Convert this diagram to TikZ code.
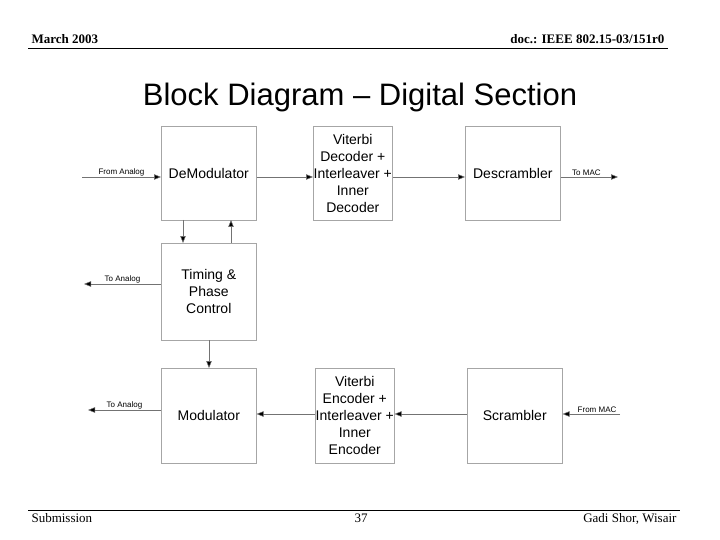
\documentclass[tikz,border=0pt]{standalone}
\usepackage{fontspec}
\setmainfont{Liberation Serif}
\newfontfamily\arial{Liberation Sans}
\usetikzlibrary{arrows.meta}
\begin{document}
\begin{tikzpicture}[x=1pt,y=-1pt,
  blk/.style={draw=black!35,line width=0.6pt,minimum width=95pt,minimum height=94pt,anchor=north west,align=center,font=\arial\fontsize{14}{17}\selectfont,inner sep=0pt},
  ar/.style={draw=black!55,line width=0.5pt,-{Triangle[length=7pt,width=5.5pt,fill=black]}},
  lab/.style={font=\arial\fontsize{8}{9}\selectfont,inner sep=1pt},
  hd/.style={font=\bfseries\fontsize{13}{15}\selectfont,anchor=base west},
  ft/.style={font=\fontsize{13}{15}\selectfont,anchor=base}]
\useasboundingbox (0,0) rectangle (720,540);
\node[hd] (hl) at (28,44) {March 2003};
\node[hd,anchor=base east] (hr) at (668,44) {doc.: IEEE 802.15-03/151r0};
\draw[line width=0.6pt] (28,48) -- (668,48);
\node[font=\arial\fontsize{31}{34}\selectfont] (title) at (360,97) {Block Diagram – Digital Section};
\draw[line width=0.6pt] (28,510) -- (680,510);
\node[ft,anchor=base west] (fl) at (28,522) {Submission};
\node[ft] (fc) at (361,522) {37};
\node[ft,anchor=base east] (fr) at (680,522) {Gadi Shor, Wisair};

\node[blk] (dem) at (161,126) {DeModulator};
\node[blk,minimum width=79pt] (vd) at (313,126) {Viterbi\\Decoder +\\Interleaver +\\Inner\\Decoder};
\node[blk] (des) at (465,126) {Descrambler};
\node[blk,minimum height=97pt] (tim) at (161,243) {Timing \&\\Phase\\Control};
\node[blk,minimum height=95pt] (mod) at (161,368) {Modulator};
\node[blk,minimum width=79pt,minimum height=95pt] (ve) at (315,368) {Viterbi\\Encoder +\\Interleaver +\\Inner\\Encoder};
\node[blk,minimum height=95pt] (scr) at (467,368) {Scrambler};

\coordinate (fa) at (82,177);
\coordinate (tm) at (618,177);
\coordinate (ta1) at (84,284);
\coordinate (ta2) at (88,410);
\coordinate (fm) at (620,414);

\draw[ar] (fa) -- (fa -| dem.west) node[lab,pos=0.5,above] {From Analog};
\draw[ar] (dem.east |- fa) -- (vd.west |- fa);
\draw[ar] (vd.east |- fa) -- (des.west |- fa);
\draw[ar] (des.east |- tm) -- (tm) node[lab,pos=0.45,above] {To MAC};
\draw[ar] (183,220) -- (183,243);
\draw[ar] (231,243) -- (231,220);
\draw[ar] (tim.west |- ta1) -- (ta1) node[lab,pos=0.5,above] {To Analog};
\draw[ar] (209,340) -- (209,368);
\draw[ar] (mod.west |- ta2) -- (ta2) node[lab,pos=0.5,above] {To Analog};
\draw[ar] (ve.west |- fm) -- (mod.east |- fm);
\draw[ar] (scr.west |- fm) -- (ve.east |- fm);
\draw[ar] (fm) -- (scr.east |- fm) node[lab,pos=0.4,above] {From MAC};
\end{tikzpicture}
\end{document}
